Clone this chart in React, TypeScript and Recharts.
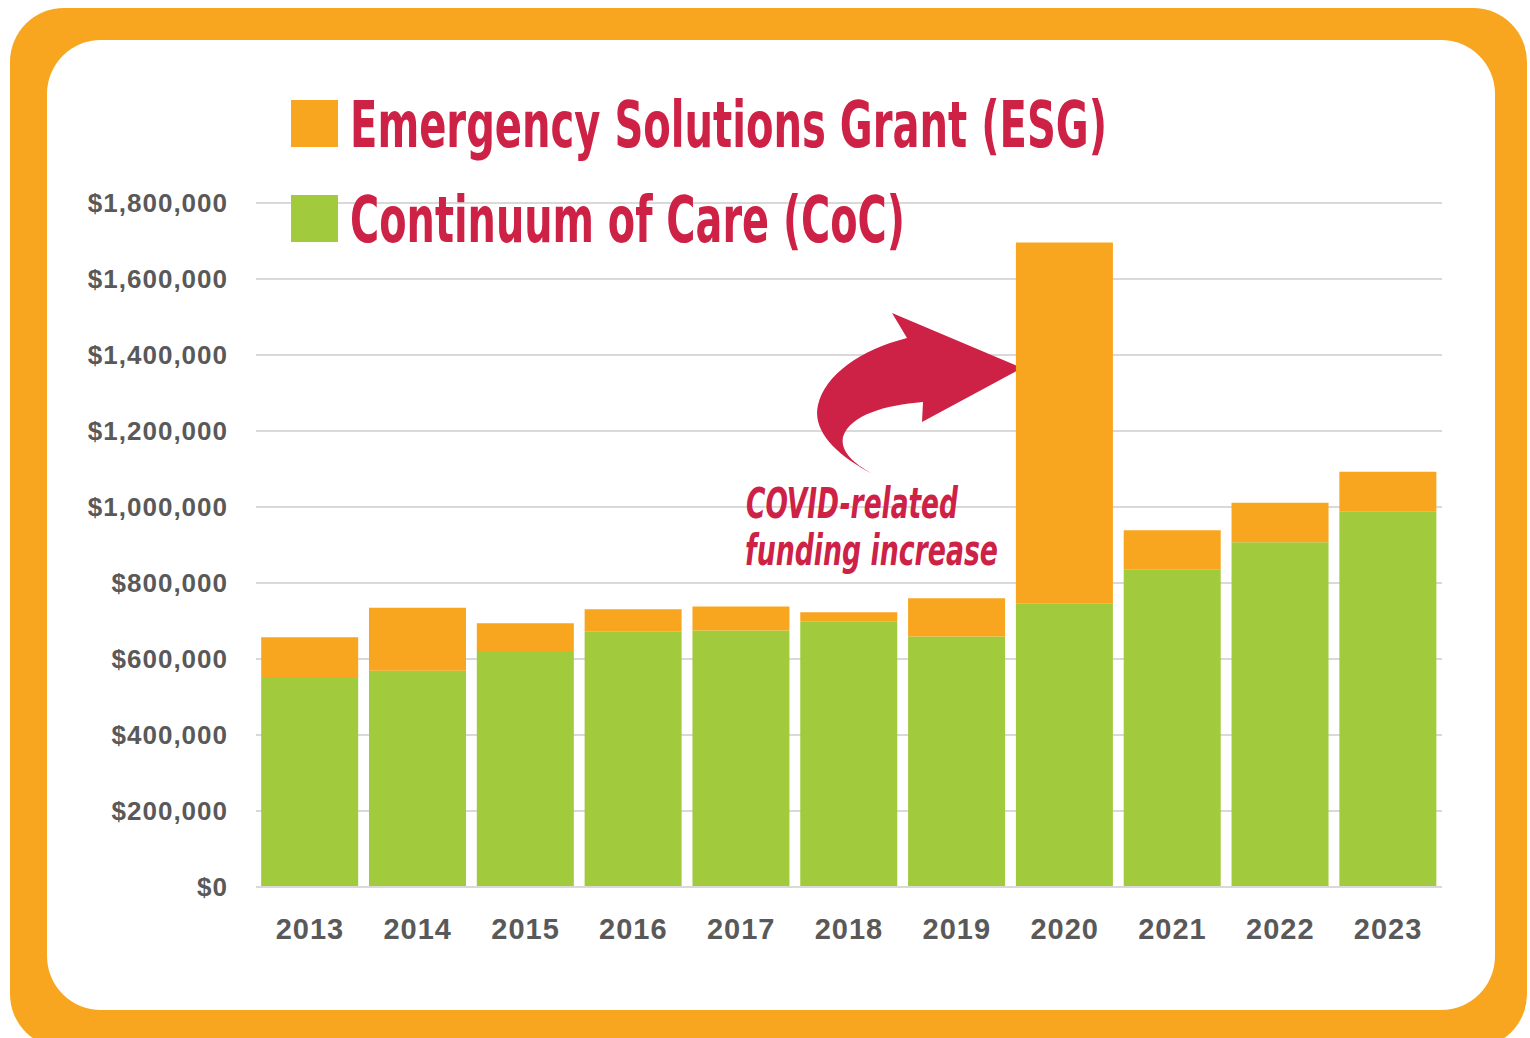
import React from 'react';
import { BarChart, Bar, XAxis, YAxis, CartesianGrid, Customized } from 'recharts';

const years = ['2013', '2014', '2015', '2016', '2017', '2018', '2019', '2020', '2021', '2022', '2023'];
const cocValues = [550000, 569000, 621000, 672000, 675000, 698000, 659000, 747000, 836000, 907000, 989000];
const esgValues = [107000, 166000, 73000, 59000, 63000, 25000, 101000, 949000, 103000, 104000, 104000];
const yTicks = [0, 200000, 400000, 600000, 800000, 1000000, 1200000, 1400000, 1600000, 1800000];
const esgName = 'Emergency Solutions Grant (ESG)';
const cocName = 'Continuum of Care (CoC)';
const annotationLines = ['COVID-related', 'funding increase'];

const ORANGE = '#F8A61F';
const GREEN = '#A2CA3D';
const RED = '#CE2146';
const GRID = '#D9D9D9';
const TICK = '#595959';

const data = years.map((y, i) => ({ year: y, coc: cocValues[i], esg: esgValues[i] }));

const fmt = (v: number) => '$' + v.toLocaleString('en-US');

const condensed = "'Liberation Sans Narrow', 'DejaVu Sans Condensed', 'Arial Narrow', sans-serif";

const Overlay = () => (
  <g>
    <rect x={291} y={100} width={47} height={47} fill={ORANGE} />
    <text x={350} y={147} fontSize={64} fontWeight="bold" fill={RED} fontFamily={condensed}
      textLength={757} lengthAdjust="spacingAndGlyphs">{esgName}</text>
    <rect x={291} y={195} width={47} height={47} fill={GREEN} />
    <text x={350} y={242} fontSize={64} fontWeight="bold" fill={RED} fontFamily={condensed}
      textLength={555} lengthAdjust="spacingAndGlyphs">{cocName}</text>
    <path
      d="M 875 475 C 835 455, 812 430, 818 405 C 825 375, 860 350, 907 338 L 892 313 L 1022 368 L 922 422 L 923 402 C 885 405, 850 415, 843 437 C 840 452, 855 465, 875 475 Z"
      fill={RED}
    />
    <text x={746} y={518} fontSize={42} fontWeight="bold" fontStyle="italic" fill={RED} fontFamily={condensed}
      textLength={212} lengthAdjust="spacingAndGlyphs">{annotationLines[0]}</text>
    <text x={745} y={565} fontSize={42} fontWeight="bold" fontStyle="italic" fill={RED} fontFamily={condensed}
      textLength={253} lengthAdjust="spacingAndGlyphs">{annotationLines[1]}</text>
  </g>
);

export default function App() {
  return (
    <div style={{ position: 'absolute', left: 0, top: 0, width: 1530, height: 1038, overflow: 'hidden', background: '#fff' }}>
      <div style={{ position: 'absolute', left: 10, top: 8, width: 1517, height: 1040, background: ORANGE, borderRadius: 54 }} />
      <div style={{ position: 'absolute', left: 47, top: 40, width: 1448, height: 970, background: '#fff', borderRadius: 54 }} />
      <div style={{ position: 'absolute', left: 0, top: 0 }}>
        <BarChart
          width={1530}
          height={1038}
          data={data}
          margin={{ top: 203, right: 88, left: 0, bottom: 91 }}
          barCategoryGap="4.8%"
        >
          <CartesianGrid vertical={false} stroke={GRID} strokeWidth={2} />
          <XAxis
            dataKey="year"
            height={60}
            tickSize={0}
            tickMargin={31}
            axisLine={{ stroke: GRID, strokeWidth: 2 }}
            tickLine={false}
            tick={{ fill: TICK, fontSize: 29, fontWeight: 'bold', letterSpacing: 1, fontFamily: "'Liberation Sans', Arial, sans-serif" }}
          />
          <YAxis
            width={256}
            domain={[0, 1800000]}
            ticks={yTicks}
            tickFormatter={fmt}
            tickSize={0}
            tickMargin={28}
            axisLine={false}
            tickLine={false}
            tick={{ fill: TICK, fontSize: 26, fontWeight: 'bold', letterSpacing: 1, fontFamily: "'Liberation Sans', Arial, sans-serif" }}
          />
          <Bar dataKey="coc" name={cocName} stackId="a" fill={GREEN} isAnimationActive={false} />
          <Bar dataKey="esg" name={esgName} stackId="a" fill={ORANGE} isAnimationActive={false} />
          <Customized component={Overlay} />
        </BarChart>
      </div>
    </div>
  );
}
